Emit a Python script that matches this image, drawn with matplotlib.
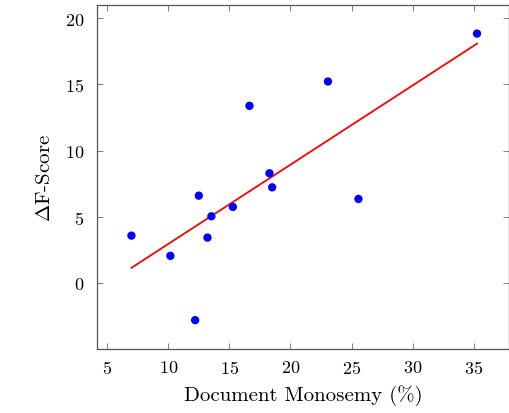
import numpy as np
import matplotlib
matplotlib.use("Agg")
import matplotlib.pyplot as plt

# data
monosemy = [6.97, 10.16, 12.19, 12.49, 13.20, 13.52, 15.28, 16.64, 18.28, 18.50, 23.07, 25.57, 35.28]
delta_f = [3.57, 2.04, -2.82, 6.59, 3.42, 5.03, 5.74, 13.38, 8.28, 7.22, 15.22, 6.34, 18.84]
x_ticks = [5, 10, 15, 20, 25, 30, 35]
y_ticks = [0, 5, 10, 15, 20]

plt.rcParams['font.family'] = 'serif'
plt.rcParams['font.serif'] = ['cmr10']
plt.rcParams['mathtext.fontset'] = 'cm'
plt.rcParams['axes.formatter.use_mathtext'] = True

fig = plt.figure(figsize=(5.1, 4.14), dpi=100)
ax = fig.add_axes([0.1902, 0.1546, 0.8078, 0.8309])

# linear fit
x = np.array(monosemy)
y = np.array(delta_f)
slope, icpt = np.polyfit(x, y, 1)
xs = np.array([x.min(), x.max()])
ax.plot(xs, slope * xs + icpt, color='red', lw=1.3, zorder=2)

ax.scatter(x, y, s=36, color='blue', edgecolors='none', zorder=3)

ax.set_xlim(4.15, 37.9)
ax.set_ylim(-5, 21)
ax.set_xticks(x_ticks)
ax.set_yticks(y_ticks)
ax.tick_params(direction='in', top=True, right=True, length=4, width=0.7,
               color='#808080', labelsize=13)
ax.tick_params(axis='x', pad=7)
ax.tick_params(axis='y', pad=9)
for s in ax.spines.values():
    s.set_color('#555555')
    s.set_linewidth(0.9)

ax.set_xlabel('Document Monosemy (%)', fontsize=15, labelpad=6)
ax.set_ylabel(r'$\Delta$F-Score', fontsize=15, labelpad=8)

fig.savefig('out.png', dpi=100)
